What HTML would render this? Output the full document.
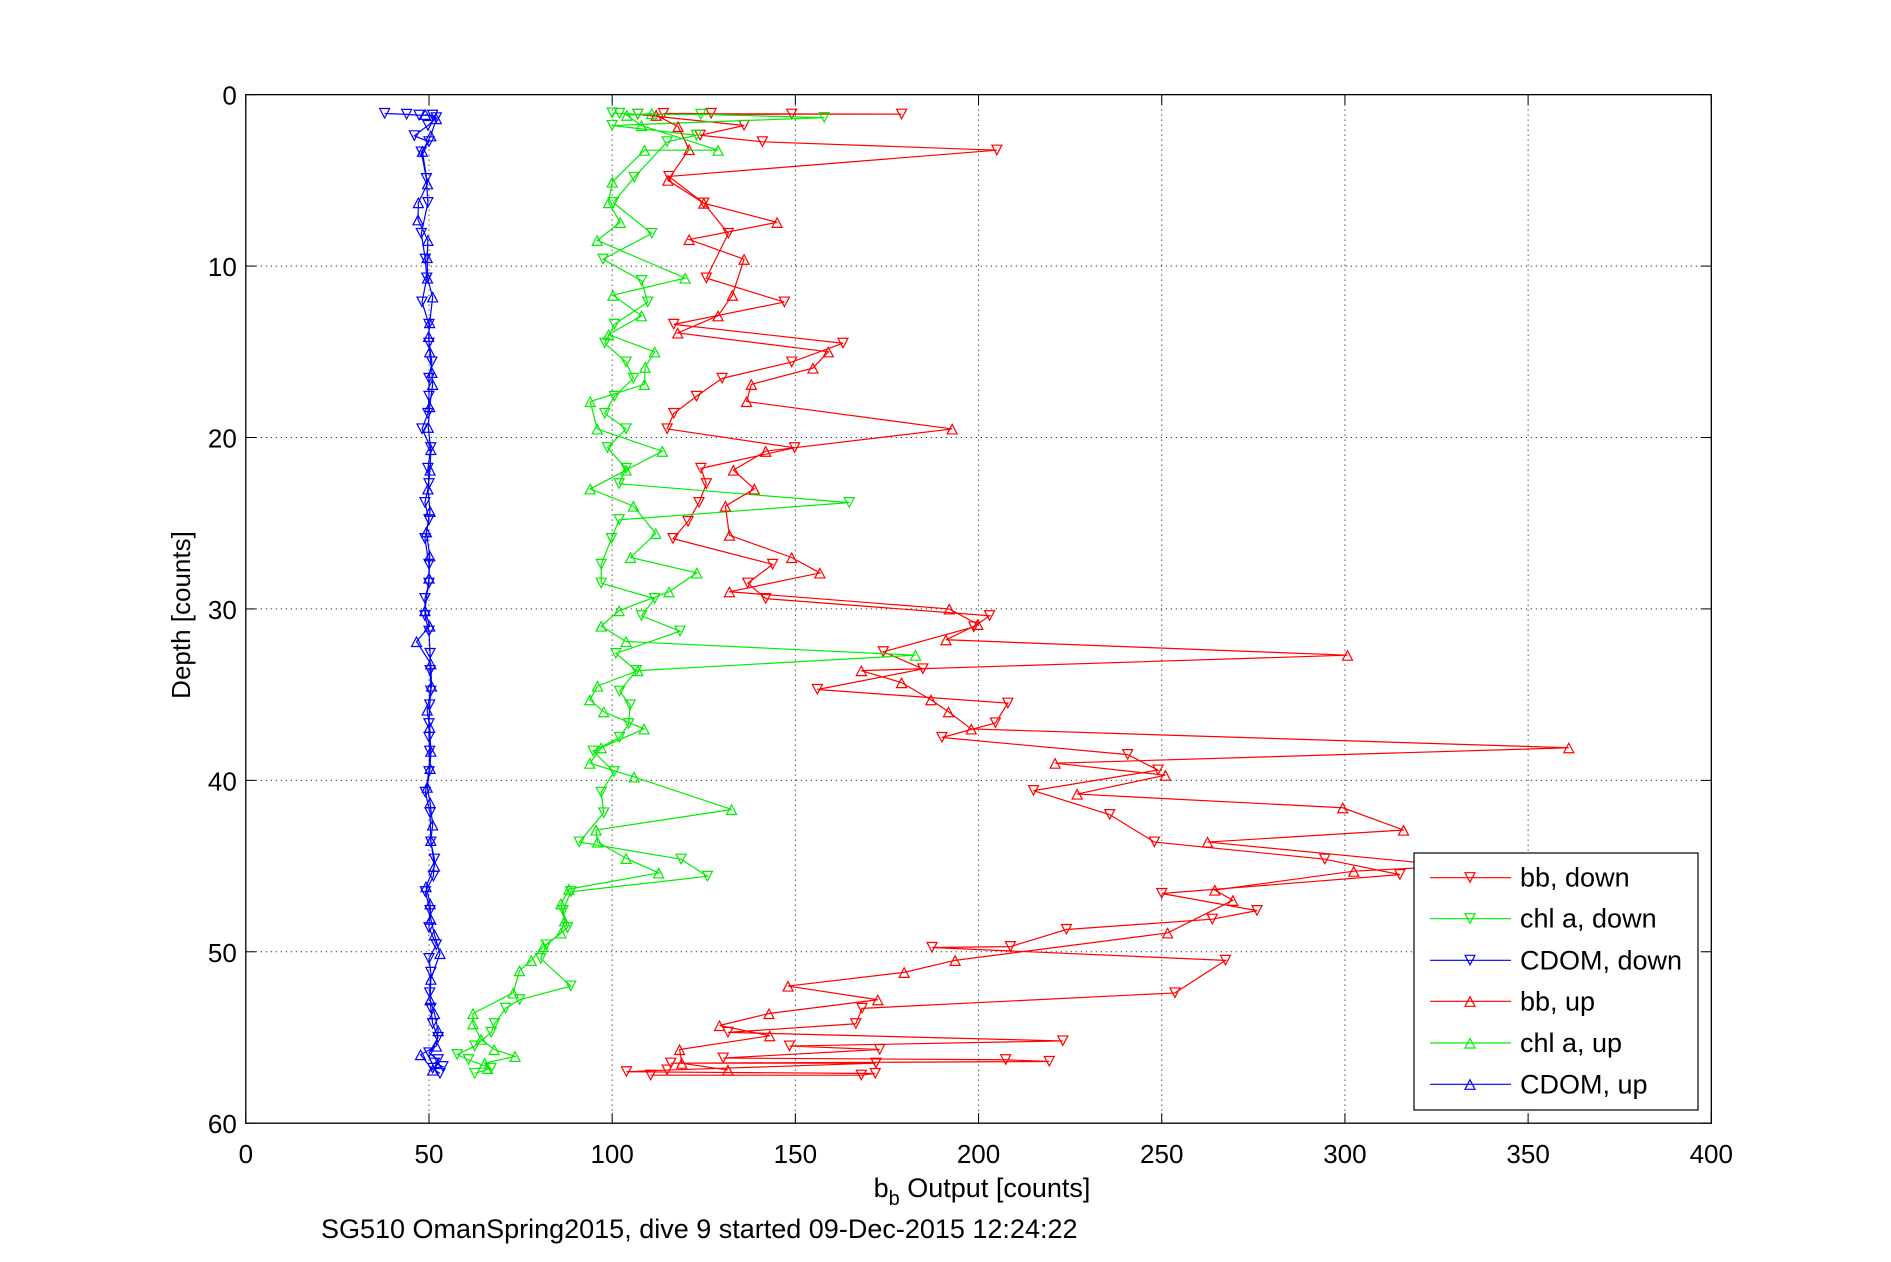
<!DOCTYPE html>
<html><head><meta charset="utf-8"><style>
html,body{margin:0;padding:0;background:#fff;}
svg{display:block;font-family:"Liberation Sans Narrow","Liberation Sans",sans-serif;}
</style></head><body>
<svg id="chart" width="1891" height="1262" viewBox="0 0 1891 1262" xmlns="http://www.w3.org/2000/svg">
<rect width="1891" height="1262" fill="#fff"/>
<g id="grid"></g>
<g id="series"></g>
<g id="axes"></g>
<text x="982" y="1197" font-size="27" text-anchor="middle">b<tspan font-size="20" dy="8">b</tspan><tspan dy="-8"> Output [counts]</tspan></text>
<text transform="translate(190,615) rotate(-90)" font-size="26" text-anchor="middle">Depth [counts]</text>
<text x="321" y="1238" font-size="27">SG510 OmanSpring2015, dive 9 started 09-Dec-2015 12:24:22</text>
<g id="legend"></g>
</svg>
<script>
const xTicks=[0,50,100,150,200,250,300,350,400];
const yTicks=[0,10,20,30,40,50,60];
const bbDown=[[179,1.14],[149,1.14],[127,1.1],[114,1.1],[107,1.15],[136,1.8],[124,2.37],[141,2.75],[205,3.24],[115.5,4.77],[125,6.33],[131.7,8.1],[125.7,10.7],[147,12.1],[116.8,13.4],[163,14.5],[149,15.6],[130,16.55],[123,17.6],[116.8,18.6],[115,19.5],[149.8,20.6],[124.2,21.8],[125.7,22.7],[123.7,23.8],[120.7,24.9],[116.6,25.9],[143.8,27.4],[137,28.5],[141.9,29.4],[203,30.4],[198.7,31.05],[174,32.5],[184.8,33.5],[156,34.7],[208,35.5],[204.6,36.65],[190,37.5],[240.7,38.5],[249,39.4],[215,40.6],[235.8,42],[248,43.6],[294.5,44.6],[315,45.5],[250,46.6],[276,47.6],[263.8,48.1],[224,48.7],[208.7,49.7],[187.3,49.75],[267.4,50.5],[253.6,52.4],[168.2,53.3],[166.5,54.2],[131.6,54.7],[223,55.2],[148.4,55.5],[173,55.7],[130.3,56.2],[207.4,56.3],[219.3,56.4],[116,56.5],[172,56.5],[115,56.9],[168,57.2],[103.9,57.0],[110.5,57.2],[171.8,57.1]];
const bbUp=[[131.6,56.9],[119,56.5],[118.4,55.7],[143,54.9],[129.3,54.3],[142.8,53.6],[172.5,52.8],[148,52],[179.7,51.2],[193.6,50.5],[251.6,48.9],[269.4,47],[264.5,46.4],[330,45],[302.4,45.3],[262.5,43.6],[316,42.9],[299.4,41.6],[226.9,40.8],[251,39.7],[220.9,39.0],[361.1,38.1],[198,37],[191.8,36],[187,35.3],[179,34.3],[168,33.6],[300.7,32.7],[191.1,31.8],[199.8,30.9],[192,30.0],[132,29],[156.7,27.9],[149,27],[132,25.7],[130.9,24],[138.8,23],[133.1,21.9],[141.9,20.8],[192.8,19.5],[136.7,17.9],[138,16.9],[154.8,15.95],[159,15],[117.9,13.9],[128.9,12.9],[132.8,11.7],[136,9.6],[121,8.45],[145,7.45],[125,6.33],[115.2,4.99],[121,3.2],[118,1.86],[112,1.2]];
const chlDown=[[100,1.07],[102,1.1],[107,1.15],[124.2,1.15],[157.9,1.34],[100,1.8],[123,2.37],[115,2.75],[106,4.83],[100.3,6.3],[110.8,8.1],[97.5,9.6],[108,10.85],[109.7,12.1],[100.6,13.4],[98,14.5],[103.8,15.6],[105.8,16.55],[100.6,17.6],[98,18.6],[103.8,19.5],[98.7,20.6],[103.8,21.8],[101.9,22.7],[164.7,23.8],[101.9,24.8],[99.8,25.9],[97,27.4],[97,28.5],[111.6,29.4],[108,30.4],[118.5,31.3],[101,32.6],[106.6,33.6],[102,34.8],[104.9,35.6],[104.5,36.7],[102,37.5],[94.8,38.3],[100.5,39.5],[97,40.7],[97.7,41.9],[91,43.6],[118.8,44.6],[126,45.6],[88.7,46.5],[86.6,47.6],[87.8,48.6],[82,49.6],[80.5,50.4],[88.7,52],[74.7,52.8],[70.9,53.3],[67.9,54.2],[67,54.7],[62.5,55.5],[57.7,56],[60.8,56.3],[66.9,56.8],[62.5,57.1]];
const chlUp=[[66,56.8],[65.2,56.5],[73.5,56.1],[67.8,55.7],[64.2,55.1],[62,54.2],[62,53.6],[73,52.4],[74.7,51.1],[77.9,50.5],[81.2,49.7],[86,48.9],[87,48.2],[86,47.2],[88.2,46.35],[112.7,45.4],[103.8,44.55],[96,43.6],[95.6,42.9],[132.6,41.7],[106,39.8],[93.9,39],[97,38.1],[108.7,37],[97.7,36],[93.9,35.3],[96,34.5],[107,33.6],[182.8,32.7],[103.8,31.9],[97,31],[101.9,30.1],[115.5,29],[123.1,27.9],[105,27],[111.9,25.6],[105.8,24],[94,23],[103.8,21.9],[113.7,20.8],[95.9,19.5],[94,17.9],[108.8,16.9],[109,15.9],[111.6,15],[99,14],[108,12.9],[100.2,11.7],[119.9,10.7],[95.9,8.5],[102.2,7.45],[99,6.3],[100,5.1],[128.9,3.24],[108.8,3.24],[108,1.8],[110.8,1.1],[104,1.2]];
const cdomDown=[[37.9,1.1],[43.9,1.15],[47.3,1.2],[51,1.2],[52,1.35],[49.7,1.8],[46,2.4],[50,2.75],[47.9,3.35],[49.3,4.9],[49.7,6.3],[47.9,8.1],[49,9.6],[49.4,10.7],[48.1,12.1],[50,13.4],[50,14.5],[50.8,15.6],[50,16.55],[50,17.6],[49.7,18.6],[48.1,19.5],[50.5,20.6],[49.7,21.8],[50,22.7],[48.9,23.8],[50,24.8],[48.9,25.9],[50,27.4],[50,28.5],[48.9,29.4],[48.9,30.4],[50,31.3],[50.3,32.6],[50.3,33.6],[50.5,34.8],[50.2,35.6],[50,36.7],[50,37.5],[50.2,38.3],[50,39.5],[49,40.7],[50.3,41.9],[50.5,43.6],[51.5,44.6],[51.2,45.6],[49,46.5],[50.3,47.6],[50,48.6],[52,49.6],[50,50.4],[50.5,51.2],[50.2,52.4],[50.5,53.3],[51,54.2],[52.5,55],[50,55.9],[52.5,56.3],[51,56.8],[53.8,56.7],[53,57.1],[51.5,56.5]];
const cdomUp=[[51,56.9],[47.7,56],[52,55.5],[52.5,54.6],[51.5,53.6],[50.3,52.8],[50.5,51.6],[53,50.1],[51.5,49],[50.5,48.1],[50.3,47.2],[49.2,46.2],[51.5,45],[50.5,43.5],[51,42.6],[50.3,41.3],[49.5,40.4],[50.3,39.3],[50.5,38.3],[50.2,36.9],[49.5,35.9],[50.7,34.5],[50.5,33.2],[46.6,31.9],[50.2,31],[48.9,30.1],[50,28.2],[50.2,26.9],[49.3,25.5],[50.3,24.3],[49.7,23],[50.3,21.9],[50.5,20.7],[49.8,19.4],[50.2,18.2],[51,16.9],[50.8,16.2],[50.2,15],[49.9,14.1],[50.2,13.3],[51,11.8],[49.6,10.7],[49.5,9.5],[49.7,8.5],[47,7.3],[47.1,6.3],[49.6,5.2],[48.2,3.3],[50.5,2.4],[52,1.4],[49,1.15]];

const L=245.8,R=1711.3,T=94.65,B=1123.2;
const xs=v=>L+(v-0)/(400-0)*(R-L);
const ys=d=>T+(d-0)/(60-0)*(B-T);
const NS='http://www.w3.org/2000/svg';
function mk(tag,attrs,parent){const e=document.createElementNS(NS,tag);for(const k in attrs)e.setAttribute(k,attrs[k]);parent.appendChild(e);return e;}
const grid=document.getElementById('grid'),axes=document.getElementById('axes'),ser=document.getElementById('series'),leg=document.getElementById('legend');
xTicks.forEach(t=>{const x=xs(t);
 if(t>0&&t<400){const g=mk('line',{x1:x,x2:x,y1:T,y2:B,stroke:'#000','stroke-width':1,'stroke-dasharray':'1,4'},grid);
 
 }
 mk('line',{x1:x,x2:x,y1:B,y2:B-10,stroke:'#000'},axes);
 mk('line',{x1:x,x2:x,y1:T,y2:T+10,stroke:'#000'},axes);
 const tx=mk('text',{x:x,y:1163,'font-size':26,'text-anchor':'middle'},axes);tx.textContent=t;
 
 
});
yTicks.forEach(t=>{const y=ys(t);
 if(t>0&&t<60){const g=mk('line',{x1:L,x2:R,y1:y,y2:y,stroke:'#000','stroke-width':1,'stroke-dasharray':'1,4'},grid);
 
 }
 mk('line',{x1:L,x2:L+10,y1:y,y2:y,stroke:'#000'},axes);
 mk('line',{x1:R,x2:R-10,y1:y,y2:y,stroke:'#000'},axes);
 const tx=mk('text',{x:L-9,y:y+10,'font-size':26,'text-anchor':'end'},axes);tx.textContent=t;
 
 
});
mk('rect',{x:L,y:T,width:R-L,height:B-T,fill:'none',stroke:'#000','stroke-width':1.3},axes);
function tri(x,y,down,col,parent){const h=5;
 const p=down?`${x-h},${y-h} ${x+h},${y-h} ${x},${y+h*0.9}`:`${x-h},${y+h} ${x+h},${y+h} ${x},${y-h*0.9}`;
 return mk('polygon',{points:p,fill:'none',stroke:col,'stroke-width':1.2},parent);}
function draw(data,col,down,name){
 const g=mk('g',{},ser);
 
 
 const pts=[...data].sort((a,b)=>a[1]-b[1]);
 mk('polyline',{points:pts.map(p=>xs(p[0])+','+ys(p[1])).join(' '),fill:'none',stroke:col,'stroke-width':1.2},g);
 pts.forEach(p=>{const m=tri(xs(p[0]),ys(p[1]),down,col,g);
 
 });
}
draw(bbDown,'#ff0000',true,'bb-down-series');
draw(chlDown,'#00ee00',true,'chl-down-series');
draw(cdomDown,'#0000ff',true,'cdom-down-series');
draw(bbUp,'#ff0000',false,'bb-up-series');
draw(chlUp,'#00ee00',false,'chl-up-series');
draw(cdomUp,'#0000ff',false,'cdom-up-series');
mk('rect',{x:1414,y:853,width:284,height:257,fill:'#fff',stroke:'#000','stroke-width':1.2},leg);
const legNames=['bb, down','chl a, down','CDOM, down','bb, up','chl a, up','CDOM, up'];
const legCols=['#ff0000','#00ee00','#0000ff','#ff0000','#00ee00','#0000ff'];
const legY=[877.7,918.7,960.3,1001.3,1043,1084.3];
legNames.forEach((n,i)=>{const g=mk('g',{},leg);
 
 
 mk('line',{x1:1430,x2:1511,y1:legY[i],y2:legY[i],stroke:legCols[i],'stroke-width':1.2},g);
 tri(1470,legY[i],i<3,legCols[i],g);
 const t=mk('text',{x:1520,y:legY[i]+9,'font-size':27},g);t.textContent=n;});
</script>
</body></html>
